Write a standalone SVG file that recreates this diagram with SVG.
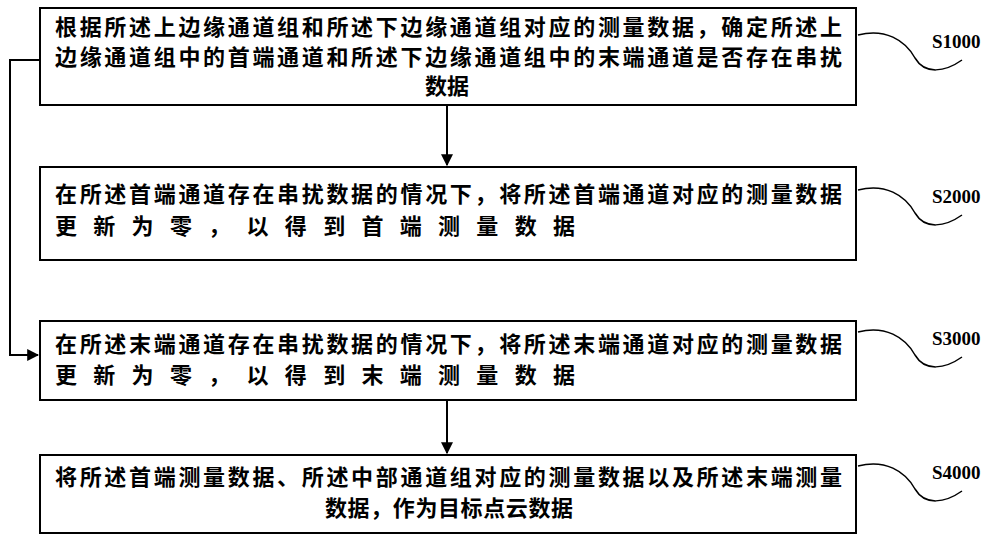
<svg xmlns="http://www.w3.org/2000/svg" width="1000" height="541" viewBox="0 0 1000 541">
<defs>
<style>
.box{fill:#fff;stroke:#000;stroke-width:2}
.t{font-family:"Noto Sans CJK SC","Noto Sans CJK JP",sans-serif;font-size:22px;font-weight:bold;fill:#000}
.lbl{font-family:"Liberation Serif",serif;font-size:19px;font-weight:bold;fill:#000}
.ln{fill:none;stroke:#000;stroke-width:2}
.wv{fill:none;stroke:#000;stroke-width:1.5}
</style>
<marker id="ah" viewBox="0 0 10 10" refX="9" refY="5" markerWidth="6" markerHeight="6" orient="auto"><path d="M0,0L10,5L0,10z" fill="#000"/></marker>
</defs>
<rect width="1000" height="541" fill="#fff"/>
<g id="connectors">
<line class="ln" x1="447" y1="106" x2="447" y2="165" marker-end="url(#ah)"/>
<line class="ln" x1="447" y1="401" x2="447" y2="453" marker-end="url(#ah)"/>
<polyline class="ln" points="40,60 10,60 10,355 38,355" marker-end="url(#ah)"/>
</g>
<g id="n1">
<rect class="box" x="40" y="8" width="816" height="97"/>
<text class="t" x="55" y="35" textLength="787" lengthAdjust="spacing">根据所述上边缘通道组和所述下边缘通道组对应的测量数据，确定所述上</text>
<text class="t" x="55" y="65" textLength="787" lengthAdjust="spacing">边缘通道组中的首端通道和所述下边缘通道组中的末端通道是否存在串扰</text>
<text class="t" x="447" y="94" text-anchor="middle">数据</text>
<path class="wv" d="M858,35 C885,28 905,40 915,58 C925,75 945,72 962,60"/>
<text class="lbl" x="932" y="48">S1000</text>
</g>
<g id="n2">
<rect class="box" x="40" y="167" width="816" height="93"/>
<text class="t" x="55" y="202" textLength="787" lengthAdjust="spacing">在所述首端通道存在串扰数据的情况下，将所述首端通道对应的测量数据</text>
<text class="t" x="55" y="234" textLength="520" lengthAdjust="spacing">更新为零，以得到首端测量数据</text>
<path class="wv" d="M858,190 C885,183 905,195 915,213 C925,230 945,227 962,215"/>
<text class="lbl" x="932" y="203">S2000</text>
</g>
<g id="n3">
<rect class="box" x="40" y="321" width="816" height="79"/>
<text class="t" x="55" y="352" textLength="787" lengthAdjust="spacing">在所述末端通道存在串扰数据的情况下，将所述末端通道对应的测量数据</text>
<text class="t" x="55" y="383" textLength="520" lengthAdjust="spacing">更新为零，以得到末端测量数据</text>
<path class="wv" d="M858,332 C885,325 905,337 915,355 C925,372 945,369 962,357"/>
<text class="lbl" x="932" y="345">S3000</text>
</g>
<g id="n4">
<rect class="box" x="40" y="455" width="816" height="78"/>
<text class="t" x="55" y="485" textLength="787" lengthAdjust="spacing">将所述首端测量数据、所述中部通道组对应的测量数据以及所述末端测量</text>
<text class="t" x="325" y="516" textLength="248" lengthAdjust="spacing">数据，作为目标点云数据</text>
<path class="wv" d="M858,466 C885,459 905,471 915,489 C925,506 945,503 962,491"/>
<text class="lbl" x="932" y="479">S4000</text>
</g>
</svg>
